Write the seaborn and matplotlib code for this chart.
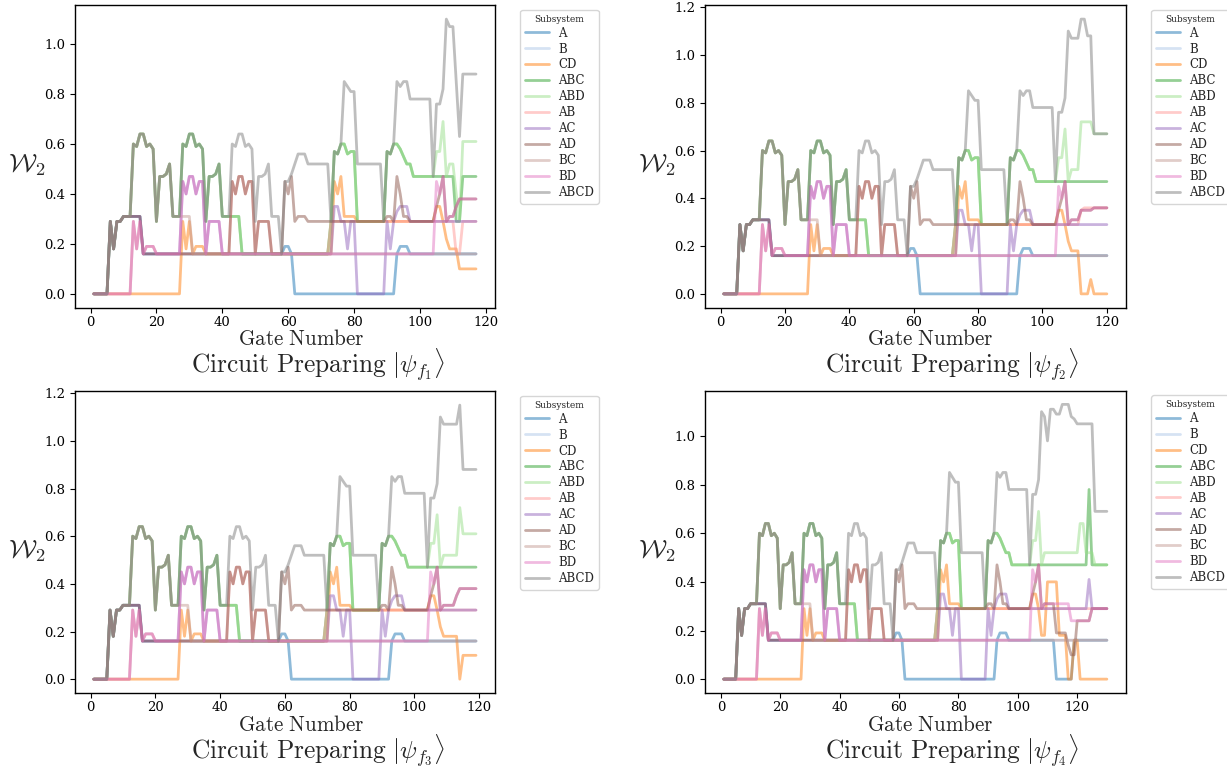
import numpy as np
import pandas as pd
import matplotlib
matplotlib.use("Agg")
import matplotlib.pyplot as plt
from matplotlib.lines import Line2D
import seaborn as sns

# ---------------- data ----------------
subsystems = ["A", "B", "CD", "ABC", "ABD", "AB", "AC", "AD", "BC", "BD", "ABCD"]
palette_idx = {"A": 0, "B": 1, "CD": 2, "ABC": 4, "ABD": 5, "AB": 7,
               "AC": 8, "AD": 10, "BC": 11, "BD": 12, "ABCD": 14}
panel_titles = [r"$\mathrm{Circuit\ Preparing}\ |\psi_{f_1}\rangle$",
                r"$\mathrm{Circuit\ Preparing}\ |\psi_{f_2}\rangle$",
                r"$\mathrm{Circuit\ Preparing}\ |\psi_{f_3}\rangle$",
                r"$\mathrm{Circuit\ Preparing}\ |\psi_{f_4}\rangle$"]

# recurring read-off segments (gates 6-12, 13-20, 13-27, 28-39, ...)
seg_dark = [0.29, 0.18, 0.29, 0.29, 0.31, 0.31, 0.31]
seg_pink = [0.29, 0.18, 0.29, 0.16, 0.19, 0.19, 0.19, 0.16]
seg_olive = [0.60, 0.59, 0.64, 0.64, 0.59, 0.60, 0.58, 0.29, 0.47, 0.47, 0.48, 0.52, 0.31, 0.31, 0.31]
seg_blk2 = [0.60, 0.59, 0.64, 0.64, 0.59, 0.60, 0.58, 0.29, 0.47, 0.47, 0.48, 0.52]
seg_lilac = [0.45, 0.40, 0.47, 0.47, 0.40, 0.45, 0.45, 0.16, 0.29, 0.29, 0.29, 0.29, 0.16]

# common part, gates 1..103 (identical in the four circuits)
pre_A = [0] * 5 + seg_dark + [0.31] * 3 + [0.16] * 42 + [0.16, 0.19, 0.19, 0.16] + [0] * 31 \
    + [0.16, 0.19, 0.19, 0.19, 0.16] + [0.16] * 6
pre_B = [0] * 12 + seg_pink + [0.16] * 83
pre_CD = [0] * 27 + [0.29, 0.18, 0.29, 0.16, 0.19, 0.19, 0.19, 0.16] + [0.16] * 38 \
    + [0.45, 0.40, 0.47, 0.31, 0.31, 0.31, 0.31] + [0.29] * 23
pre_ABC = [0] * 5 + seg_dark + seg_olive + seg_blk2 + [0.31] * 6 + [0.16] * 27 + [0.29] \
    + [0.57, 0.56, 0.60, 0.60, 0.56, 0.57, 0.57] + [0.29] * 9 \
    + [0.57, 0.56, 0.60, 0.60, 0.58, 0.55, 0.52, 0.52] + [0.47] * 6
pre_ABD = list(pre_ABC)
pre_AB = [0] * 12 + seg_pink + [0.16] * 22 \
    + [0.45, 0.40, 0.47, 0.47, 0.40, 0.45, 0.45, 0.16, 0.29, 0.29, 0.29, 0.29, 0.16] \
    + [0.16] * 17 + [0.29] * 31
pre_AC = [0] * 5 + seg_dark + [0.31] * 3 + [0.16] * 12 + seg_lilac + [0.16] * 33 \
    + [0.35, 0.35, 0.29, 0.29, 0.18, 0.29, 0.29, 0] + [0] * 8 \
    + [0.29, 0.18, 0.29, 0.33, 0.35, 0.35, 0.35, 0.29] + [0.29] * 6
pre_AD = [0] * 5 + seg_dark + [0.31] * 3 + [0.16] * 27 \
    + [0.45, 0.40, 0.47, 0.47, 0.40, 0.45, 0.45, 0.16, 0.29, 0.29, 0.29, 0.29, 0.16] \
    + [0.16] * 3 + [0.45, 0.40, 0.47, 0.29, 0.31, 0.31, 0.31] + [0.29] * 24 \
    + [0.31, 0.31, 0.29, 0.47, 0.40, 0.31, 0.31, 0.29] + [0.29] * 6
pre_BC = [0] * 5 + seg_dark + seg_olive[:12] + [0.31] * 6 + [0.16] * 73
pre_BD = [0] * 12 + seg_pink + [0.16] * 7 + seg_lilac + [0.16] * 63
pre_ABCD = [0] * 5 + seg_dark + seg_olive + seg_blk2 + [0.31] * 3 + seg_olive \
    + [0.16, 0.45, 0.45, 0.48, 0.52, 0.56, 0.56, 0.56, 0.52, 0.52, 0.52, 0.52, 0.52, 0.52, 0.52] \
    + [0.29, 0.57, 0.56, 0.60, 0.85, 0.83, 0.81, 0.81] + [0.52] * 8 \
    + [0.29, 0.57, 0.56, 0.60, 0.85, 0.83, 0.85, 0.85] + [0.78] * 7

prefix = {"A": pre_A, "B": pre_B, "CD": pre_CD, "ABC": pre_ABC, "ABD": pre_ABD,
          "AB": pre_AB, "AC": pre_AC, "AD": pre_AD, "BC": pre_BC, "BD": pre_BD,
          "ABCD": pre_ABCD}

# circuit-specific endings (from gate 104)
tail_f1 = {
    "A": [0.16] * 14, "B": [0.16] * 14, "BC": [0.16] * 14,
    "CD": [0.29, 0.35, 0.35, 0.29, 0.22, 0.18, 0.18, 0.18, 0.10, 0.10, 0.10, 0.10, 0.10, 0.10],
    "ABC": [0.47] * 7 + [0.29, 0.29] + [0.47] * 5,
    "ABD": [0.47, 0.57, 0.57, 0.69, 0.47, 0.52, 0.52, 0.40, 0.29, 0.61, 0.61, 0.61, 0.61, 0.61],
    "AB": [0.29] * 7 + [0.16, 0.16] + [0.29] * 5,
    "AC": [0.29] * 14,
    "AD": [0.29, 0.35, 0.40, 0.47, 0.29, 0.31, 0.31, 0.35, 0.38, 0.38, 0.38, 0.38, 0.38, 0.38],
    "BD": [0.16, 0.45, 0.40, 0.47, 0.29, 0.31, 0.31, 0.35, 0.38, 0.38, 0.38, 0.38, 0.38, 0.38],
    "ABCD": [0.47, 0.76, 0.76, 0.82, 1.10, 1.07, 1.07, 0.85, 0.63, 0.88, 0.88, 0.88, 0.88, 0.88],
}
tail_f2 = {
    "A": [0.16] * 17, "B": [0.16] * 17, "BC": [0.16] * 17,
    "CD": [0.29, 0.35, 0.35, 0.29, 0.22, 0.18, 0.18, 0.18, 0, 0, 0, 0.06, 0, 0, 0, 0, 0],
    "ABC": [0.47] * 17,
    "ABD": [0.47, 0.57, 0.57, 0.69, 0.47, 0.52, 0.52, 0.52, 0.72, 0.72, 0.72, 0.72,
            0.67, 0.67, 0.67, 0.67, 0.67],
    "AB": [0.29] * 8 + [0.35] + [0.36] * 8,
    "AC": [0.29] * 17,
    "AD": [0.29, 0.35, 0.40, 0.47, 0.29, 0.31, 0.31, 0.31, 0.35, 0.35, 0.35, 0.35,
           0.36, 0.36, 0.36, 0.36, 0.36],
    "BD": [0.16, 0.45, 0.40, 0.47, 0.29, 0.31, 0.31, 0.31, 0.35, 0.35, 0.35, 0.35,
           0.36, 0.36, 0.36, 0.36, 0.36],
    "ABCD": [0.47, 0.76, 0.76, 0.82, 1.10, 1.07, 1.07, 1.07, 1.15, 1.15, 1.08, 1.08,
             0.67, 0.67, 0.67, 0.67, 0.67],
}
tail_f3 = {
    "A": [0.16] * 16, "B": [0.16] * 16, "BC": [0.16] * 16,
    "CD": [0.29, 0.35, 0.35, 0.29, 0.22, 0.18, 0.18, 0.18, 0.18, 0.18, 0,
           0.10, 0.10, 0.10, 0.10, 0.10],
    "ABC": [0.47] * 16,
    "ABD": [0.47, 0.57, 0.57, 0.69, 0.47, 0.52, 0.52, 0.52, 0.52, 0.52, 0.72,
            0.61, 0.61, 0.61, 0.61, 0.61],
    "AB": [0.29] * 16,
    "AC": [0.29] * 16,
    "AD": [0.29, 0.35, 0.40, 0.47, 0.29, 0.31, 0.31, 0.31, 0.31, 0.35, 0.38,
           0.38, 0.38, 0.38, 0.38, 0.38],
    "BD": [0.16, 0.45, 0.40, 0.47, 0.29, 0.31, 0.31, 0.31, 0.31, 0.35, 0.38,
           0.38, 0.38, 0.38, 0.38, 0.38],
    "ABCD": [0.47, 0.76, 0.76, 0.82, 1.10, 1.07, 1.07, 1.07, 1.07, 1.07, 1.15,
             0.88, 0.88, 0.88, 0.88, 0.88],
}
tail_f4 = {
    "A": [0.16] * 9 + [0] * 6 + [0.16] * 12,
    "B": [0.16] * 27, "BC": [0.16] * 27,
    "CD": [0.29, 0.35, 0.35, 0.29, 0.18, 0.18, 0.40, 0.40, 0.40, 0.40, 0.18, 0.18, 0.18,
           0, 0, 0.16, 0.16] + [0] * 10,
    "ABC": [0.47] * 20 + [0.78] + [0.47] * 6,
    "ABD": [0.47, 0.57, 0.57, 0.69, 0.47] + [0.52] * 12 + [0.64, 0.64, 0.52, 0.52, 0.52]
           + [0.47] * 5,
    "AB": [0.29] * 27,
    "AC": [0.29] * 20 + [0.41] + [0.29] * 6,
    "AD": [0.29, 0.35, 0.40, 0.47, 0.29, 0.31, 0.31, 0.31, 0.31, 0.19, 0.19, 0.19, 0.19,
           0.14, 0.10, 0.10, 0.24, 0.24, 0.24, 0.24, 0.24] + [0.29] * 6,
    "BD": [0.16, 0.45, 0.40, 0.47, 0.29] + [0.31] * 9 + [0.24] * 7 + [0.29] * 6,
    "ABCD": [0.47, 0.76, 0.76, 0.82, 1.10, 1.08, 0.98, 1.11, 1.11, 1.09, 1.09, 1.13, 1.13,
             1.13, 1.08, 1.07] + [1.05] * 6 + [0.69] * 5,
}
tails = [tail_f1, tail_f2, tail_f3, tail_f4]

# ---------------- style ----------------
sns.set_theme(style="ticks")
plt.rcParams["font.family"] = ["DejaVu Serif"]
plt.rcParams["mathtext.fontset"] = "cm"
plt.rcParams["axes.edgecolor"] = "black"
plt.rcParams["xtick.color"] = "black"
plt.rcParams["ytick.color"] = "black"

tab20 = sns.color_palette("tab20", 20)
palette = {s: tab20[palette_idx[s]] for s in subsystems}

fig = plt.figure(figsize=(12.27, 7.69), dpi=100)
axes_pos = [(0.0609, 0.600, 0.3426, 0.393),
            (0.5743, 0.600, 0.3434, 0.393),
            (0.0609, 0.099, 0.3426, 0.392),
            (0.5743, 0.099, 0.3434, 0.393)]
label_x = [0.2453, 0.758, 0.2453, 0.758]
title_x = [0.259, 0.776, 0.259, 0.776]
label_y = [0.5520, 0.5520, 0.0496, 0.0496]
title_y = [0.5143, 0.5143, 0.0119, 0.0119]

for k in range(4):
    ax = fig.add_axes(axes_pos[k])
    rows = []
    for s in subsystems:
        vals = prefix[s] + tails[k][s]
        for g, v in enumerate(vals, start=1):
            rows.append((g, v, s))
    df = pd.DataFrame(rows, columns=["Gate", "W2", "Subsystem"])
    sns.lineplot(data=df, x="Gate", y="W2", hue="Subsystem", hue_order=subsystems,
                 palette=palette, linewidth=2, alpha=0.5, errorbar=None,
                 legend=False, ax=ax)
    ax.set_xlabel("")
    ax.set_ylabel(r"$\mathcal{W}_2$", fontsize=19, rotation=0, va="center", ha="center")
    ax.yaxis.set_label_coords(-0.113, 0.47)
    ax.tick_params(labelsize=9.5, length=3.5, width=0.8)
    ax.tick_params(axis="x", pad=2.5)
    for sp in ax.spines.values():
        sp.set_linewidth(1.0)
    handles = [Line2D([], [], color=palette[s], lw=2, alpha=0.5) for s in subsystems]
    ax.legend(handles, subsystems, title="Subsystem", loc="upper left",
              bbox_to_anchor=(1.06, 0.985), borderaxespad=0, fontsize=8.5,
              title_fontsize=6.5, frameon=True, labelspacing=0.25)
    fig.text(label_x[k], label_y[k], r"$\mathrm{Gate\ Number}$", fontsize=15.2,
             ha="center", va="baseline")
    fig.text(title_x[k], title_y[k], panel_titles[k], fontsize=18.3,
             ha="center", va="baseline")

fig.savefig("out.png", dpi=100)
